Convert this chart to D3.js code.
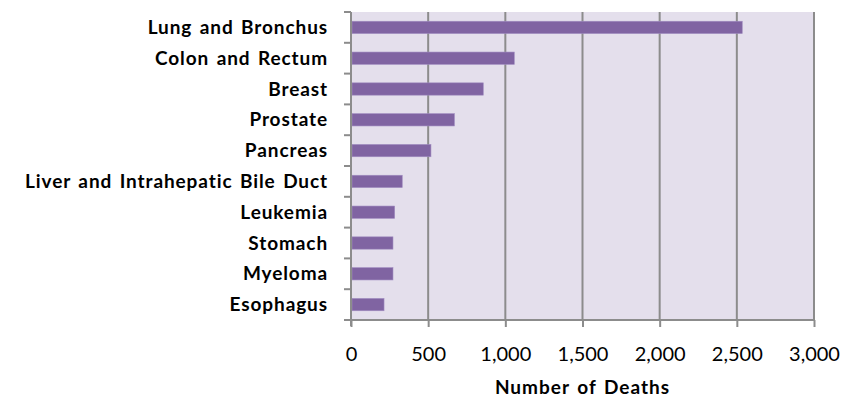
<!DOCTYPE html>
<html>
<head>
<meta charset="utf-8">
<script src="https://cdn.jsdelivr.net/npm/d3@7"></script>
<style>
  body { margin: 0; background: #fff; }
  svg { display: block; }
</style>
</head>
<body>
<div id="chart"></div>
<script>
// data
const sites = ["Lung and Bronchus", "Colon and Rectum", "Breast", "Prostate", "Pancreas",
  "Liver and Intrahepatic Bile Duct", "Leukemia", "Stomach", "Myeloma", "Esophagus"];
const deaths = [2535, 1058, 857, 670, 518, 332, 283, 272, 272, 214];
const xTicks = [0, 500, 1000, 1500, 2000, 2500, 3000];

const W = 853, H = 400;
const margin = { top: 12, right: 39, bottom: 80, left: 351 };
const width = W - margin.left - margin.right;
const height = H - margin.top - margin.bottom;
const font = "Lato, 'Open Sans', sans-serif";

const rows = sites.map((s, i) => ({ site: s, value: deaths[i] }));

const svg = d3.select("#chart").append("svg")
  .attr("width", W).attr("height", H);

const g = svg.append("g")
  .attr("transform", `translate(${margin.left},${margin.top})`);

const x = d3.scaleLinear().domain([0, 3000]).range([0, width]);
const y = d3.scaleBand().domain(sites).range([0, height]).paddingInner(0.6).paddingOuter(0.3);

// plot background
g.append("rect")
  .attr("width", width).attr("height", height)
  .attr("fill", "#e4dfec");

// vertical gridlines
g.selectAll(".grid")
  .data(xTicks.slice(1))
  .enter().append("line")
  .attr("x1", d => x(d)).attr("x2", d => x(d))
  .attr("y1", 0).attr("y2", height)
  .attr("stroke", "#8c8c8c").attr("stroke-width", 2);

// bars
g.selectAll(".bar")
  .data(rows)
  .enter().append("rect")
  .attr("x", 1)
  .attr("y", d => y(d.site))
  .attr("width", d => x(d.value) - 1)
  .attr("height", y.bandwidth())
  .attr("fill", "#8064a2")
  .attr("stroke", "#a08cc0").attr("stroke-width", 0.6);

// y axis: Excel style ticks between categories
const step = height / sites.length;
const yAxis = g.append("g");
yAxis.append("line")
  .attr("x1", 0).attr("x2", 0).attr("y1", 0).attr("y2", height + 6)
  .attr("stroke", "#8c8c8c").attr("stroke-width", 2);
yAxis.selectAll(".tk")
  .data(d3.range(sites.length))
  .enter().append("line")
  .attr("x1", -7).attr("x2", 0)
  .attr("y1", i => i * step).attr("y2", i => i * step)
  .attr("stroke", "#8c8c8c").attr("stroke-width", 2);
yAxis.selectAll(".lbl")
  .data(sites)
  .enter().append("text")
  .attr("x", -23)
  .attr("y", d => y(d) + y.bandwidth() / 2)
  .attr("dy", "0.35em")
  .attr("text-anchor", "end")
  .style("font-family", font)
  .style("font-weight", "bold")
  .style("font-size", "19px")
  .style("letter-spacing", "0.9px")
  .style("word-spacing", "2px")
  .attr("fill", "#000")
  .text(d => d);

// x axis
const xAxis = g.append("g")
  .attr("transform", `translate(0,${height})`)
  .call(d3.axisBottom(x).tickValues(xTicks).tickFormat(d3.format(",")).tickSize(7).tickPadding(20));
xAxis.select(".domain").attr("stroke", "#8c8c8c").attr("stroke-width", 2)
  .attr("d", `M-7,0H${width}`);
xAxis.selectAll(".tick line").attr("stroke", "#8c8c8c").attr("stroke-width", 2);
xAxis.selectAll(".tick text")
  .style("font-family", font)
  .style("font-size", "20px")
  .attr("fill", "#000");

// axis title
svg.append("text")
  .attr("x", margin.left + width / 2)
  .attr("y", 394)
  .attr("text-anchor", "middle")
  .style("font-family", font)
  .style("font-weight", "bold")
  .style("font-size", "19px")
  .style("letter-spacing", "1px")
  .style("word-spacing", "2px")
  .text("Number of Deaths");
</script>
</body>
</html>
